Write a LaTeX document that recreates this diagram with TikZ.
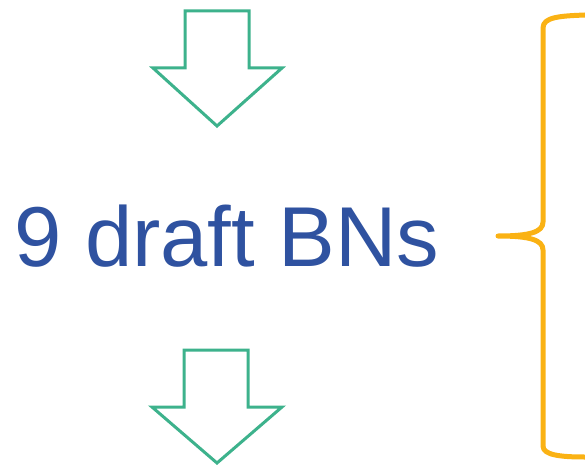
\documentclass[tikz,border=0pt]{standalone}
\usepackage{fontspec}
\setmainfont{Liberation Sans}
\definecolor{arrowteal}{RGB}{61,178,140}
\definecolor{labelblue}{RGB}{47,82,160}
\definecolor{braceorange}{RGB}{250,178,20}
\begin{document}
\begin{tikzpicture}[x=1pt,y=-1pt,
  downarrow/.style={draw=arrowteal,line width=3pt,line join=miter,fill=white},
  bracestyle/.style={draw=braceorange,line width=5pt,line join=round,line cap=butt},
  labeltext/.style={text=labelblue,inner sep=0pt,font=\fontsize{85pt}{90pt}\selectfont}]
\useasboundingbox (0,0) rectangle (585,465);
% upper hollow arrow
\draw[downarrow] (185,11) -- (249,11) -- (249,68) -- (282,68) -- (217,126)
  -- (153,68) -- (185,68) -- cycle;
% lower hollow arrow
\draw[downarrow] (184,350) -- (248,350) -- (248,407) -- (282,407) -- (217,463)
  -- (152,407) -- (184,407) -- cycle;
% label
\node[labeltext,anchor=base west] (drafts) at (14,266) {9 draft BNs};
% curly brace
\draw[bracestyle] (585,15) .. controls (560,16) and (543,17) .. (543,28)
  -- (543,222) .. controls (543,232) and (530,236) .. (498,236)
  .. controls (530,236) and (543,240) .. (543,250)
  -- (543,446) .. controls (543,455) and (560,457) .. (585,457);
\end{tikzpicture}
\end{document}
